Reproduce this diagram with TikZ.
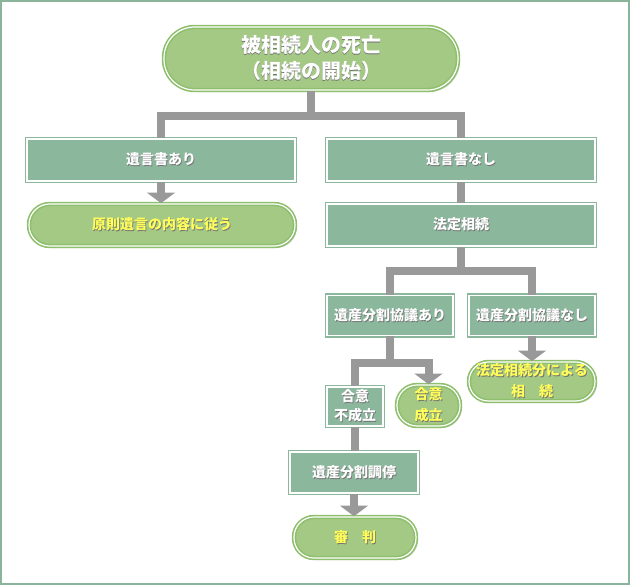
\documentclass[tikz,border=0pt]{standalone}
\usepackage{fontspec}
\newfontfamily\jp{Noto Sans CJK JP}
\usetikzlibrary{arrows.meta,shadows}
\definecolor{boxg}{HTML}{8BB79D}
\definecolor{pillg}{HTML}{A4C985}
\definecolor{pilledge}{HTML}{8DBF6C}
\definecolor{conng}{HTML}{999999}
\definecolor{yel}{HTML}{FFFF5A}
\definecolor{frameg}{HTML}{8AB59A}
\newcommand\shd[1]{\makebox[0pt][l]{\hspace*{0.7pt}\raisebox{-0.7pt}{\color{black!55}#1}}#1}
\begin{document}
\begin{tikzpicture}[x=0.75pt,y=-0.75pt,
  sq/.style={rectangle, fill=boxg, draw=boxg, double=white, double distance=0.9pt, line width=1.2pt,
    text=white, inner sep=0pt, align=center,
    drop shadow={shadow xshift=1.5pt, shadow yshift=-1.5pt, opacity=0.3},
    font=\jp\bfseries\fontsize{10.5}{14.5}\selectfont},
  pill/.style={rectangle, rounded corners=#1, fill=pillg, draw=pilledge, double=white, double distance=0.9pt, line width=1.2pt,
    text=yel, inner sep=0pt, align=center,
    drop shadow={shadow xshift=1.5pt, shadow yshift=-1.5pt, opacity=0.3},
    font=\jp\bfseries\fontsize{10.5}{15.75}\selectfont},
  pill/.default=15pt,
  conn/.style={draw=conng, line width=6pt},
  arr/.style={conn, -{Triangle[width=21pt,length=8pt]}}]
\useasboundingbox (0,0) rectangle (630,585);
\draw[frameg, line width=1.5pt] (1,1) rectangle (629,584);

\node[pill=23pt, text=white, minimum width=220.5pt, minimum height=47.25pt,
  font=\jp\bfseries\fontsize{15}{19}\selectfont] (top) at (311,58.5) {\shd{被相続人の死亡}\\\shd{（相続の開始）}};

\node[sq, minimum width=201pt, minimum height=31.5pt] (wa) at (161,160) {\shd{遺言書あり}};
\node[pill=15.5pt, minimum width=199.5pt, minimum height=31.5pt] (wap) at (162,225) {\shd{原則遺言の内容に従う}};
\node[sq, minimum width=201pt, minimum height=31.5pt] (wn) at (461,160) {\shd{遺言書なし}};
\node[sq, minimum width=201pt, minimum height=31.5pt] (hs) at (461,225) {\shd{法定相続}};

\node[sq, minimum width=94.5pt, minimum height=30pt] (ka) at (390,315.5) {\shd{遺産分割協議あり}};
\node[sq, minimum width=94.5pt, minimum height=30pt] (kn) at (532,315.5) {\shd{遺産分割協議なし}};
\node[pill=14.5pt, minimum width=94.5pt, minimum height=29.25pt] (knp) at (532,381.5) {\shd{法定相続分による}\\\shd{相　続}};

\node[sq, minimum width=42pt, minimum height=29.25pt] (fu) at (355,406.5) {\shd{合意}\\\shd{不成立}};
\node[pill=15pt, minimum width=47.25pt, minimum height=30.75pt] (se) at (428.5,405.5) {\shd{合意}\\\shd{成立}};
\node[sq, minimum width=96pt, minimum height=30.75pt] (ch) at (354,472.5) {\shd{遺産分割調停}};
\node[pill=15pt, minimum width=91.5pt, minimum height=30.75pt] (sp) at (355,537.5) {\shd{審　判}};

\coordinate (j1) at (311,116);
\coordinate (j2) at (461,271);
\coordinate (j3) at (390,363);

\draw[conn] (top.south) -- (j1);
\draw[conn] (wa.north) |- (j1) -| (wn.north);
\draw[arr] (wa.south) -- (wa.south |- wap.north);
\draw[conn] (wn.south) -- (hs.north);
\draw[conn] (hs.south) -- (j2);
\draw[conn] (ka.north) |- (j2) -| (kn.north);
\draw[arr] (kn.south) -- (knp.north);
\draw[conn] (ka.south) -- (j3);
\draw[arr] (fu.north) |- (j3) -| (se.north);
\draw[conn] (fu.south) -- (fu.south |- ch.north);
\draw[arr] (ch.south) -- (ch.south |- sp.north);
\end{tikzpicture}
\end{document}
